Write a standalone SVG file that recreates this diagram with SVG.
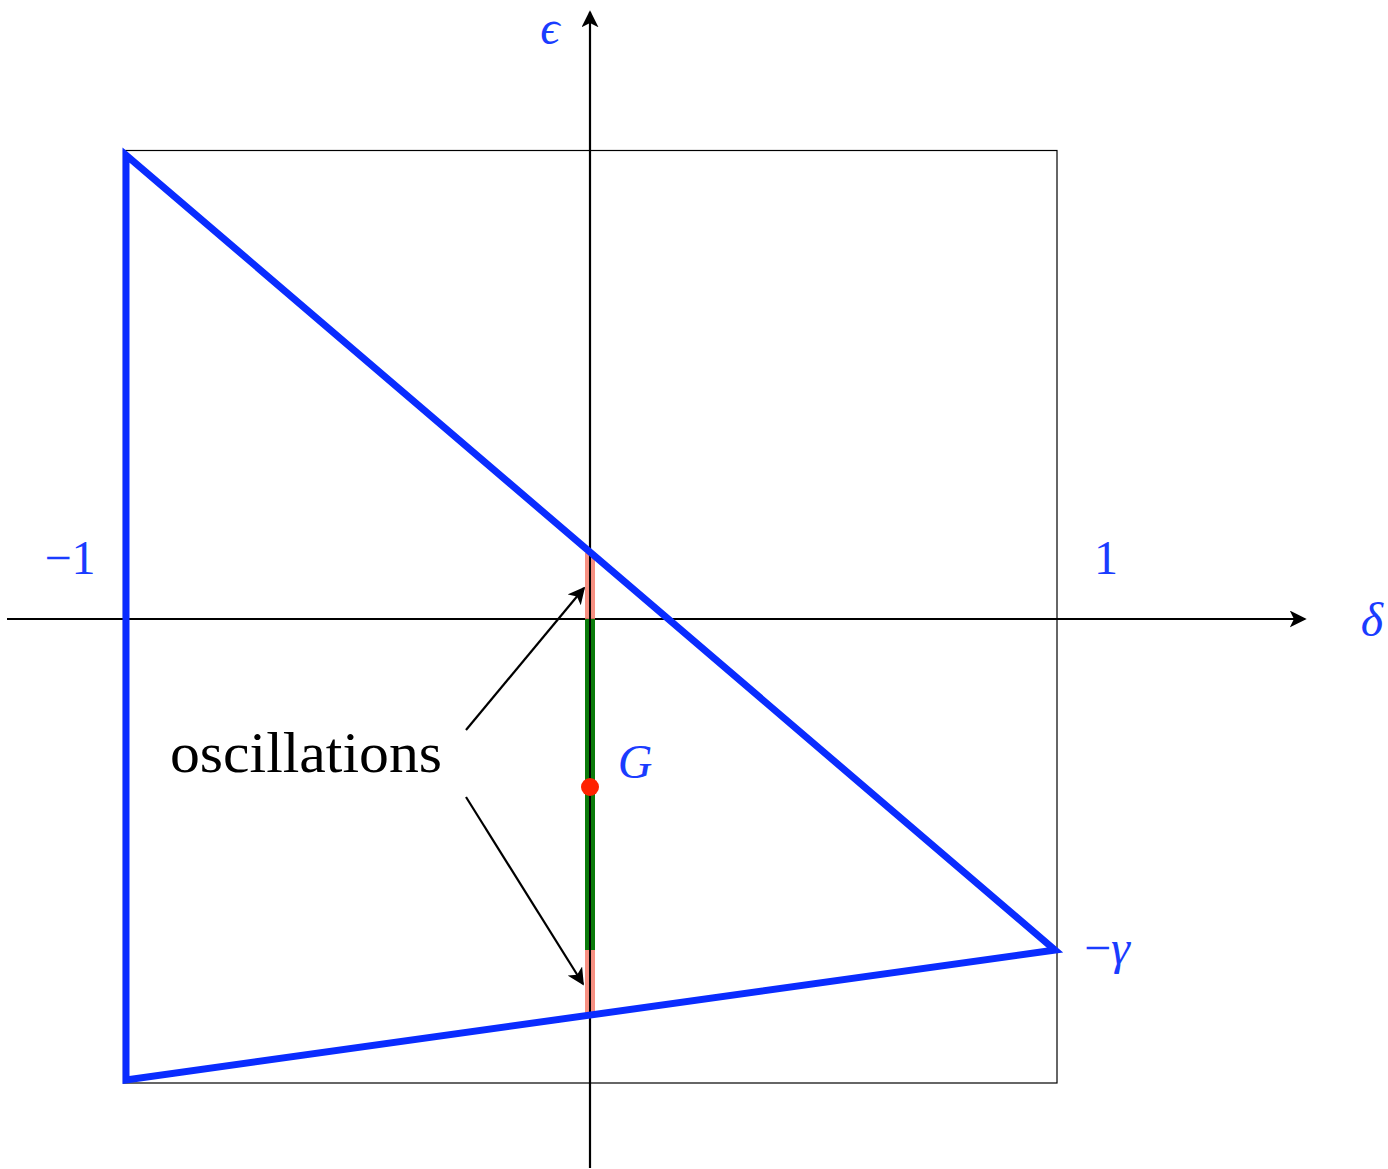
<svg xmlns="http://www.w3.org/2000/svg" width="1388" height="1169" viewBox="0 0 1388 1169">
<style>
.ax{stroke:#000;stroke-width:2.2;fill:none}
.box{stroke:#000;stroke-width:1.2;fill:none}
.tri{stroke:#0a2cff;stroke-width:7;fill:none;stroke-linejoin:miter}
.lbl{font-family:"Liberation Serif",serif;fill:#1a3cff;font-size:48px}
.it{font-style:italic}
.osc{font-family:"Liberation Serif",serif;fill:#000;font-size:56px}
.arr{stroke:#000;stroke-width:2.2;fill:none}
</style>
<defs>
<marker id="ah" viewBox="0 0 10 10" refX="9" refY="5" markerWidth="17" markerHeight="17" markerUnits="userSpaceOnUse" orient="auto">
<path d="M0,0 L10,5 L0,10 L2.5,5 Z" fill="#000"/>
</marker>
<marker id="ahb" viewBox="0 0 10 10" refX="9" refY="5" markerWidth="17" markerHeight="17" markerUnits="userSpaceOnUse" orient="auto">
<path d="M0,0 L10,5 L0,10 L2.5,5 Z" fill="#000"/>
</marker>
</defs>
<g id="box"><rect class="box" x="123.5" y="150.5" width="933.5" height="932.5"/></g>
<g id="axes">
<line class="ax" x1="7" y1="619" x2="1305" y2="619" marker-end="url(#ahb)"/>
<line class="ax" x1="590" y1="1168" x2="590" y2="12" marker-end="url(#ahb)"/>
</g>
<g id="segments">
<line x1="590" y1="553" x2="590" y2="619" stroke="#f47c6c" stroke-opacity="0.85" stroke-width="10"/>
<line x1="590" y1="950" x2="590" y2="1016" stroke="#f47c6c" stroke-opacity="0.85" stroke-width="10"/>
<line x1="590" y1="619" x2="590" y2="950" stroke="#0a7a0a" stroke-width="10"/>
<line x1="590" y1="540" x2="590" y2="1030" stroke="#000" stroke-width="2"/>
</g>
<g id="triangle"><polygon class="tri" points="126,155 126,1080 1055,950"/></g>
<g id="point"><circle cx="590" cy="787" r="9" fill="#ff2200"/></g>
<g id="connectors">
<line class="arr" x1="466" y1="730" x2="584" y2="588" marker-end="url(#ah)"/>
<line class="arr" x1="466" y1="797" x2="583" y2="984" marker-end="url(#ah)"/>
</g>
<g id="labels">
<text class="lbl it" x="550" y="44" text-anchor="middle" font-size="40">ϵ</text>
<text class="lbl it" x="1372" y="636" text-anchor="middle" font-size="52">δ</text>
<text class="lbl" x="70" y="574" text-anchor="middle">−1</text>
<text class="lbl" x="1106" y="574" text-anchor="middle">1</text>
<text class="lbl" x="1107" y="964" text-anchor="middle">−<tspan class="it">γ</tspan></text>
<text class="lbl it" x="635" y="778" text-anchor="middle" font-size="58">G</text>
<text class="osc" x="170" y="772" textLength="272" lengthAdjust="spacingAndGlyphs">oscillations</text>
</g>
</svg>
